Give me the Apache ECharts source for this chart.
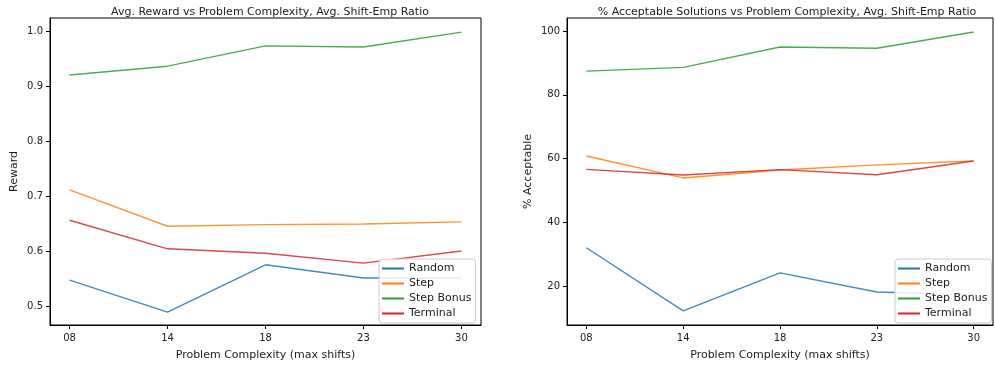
<!DOCTYPE html>
<html><head><meta charset="utf-8">
<script src="https://cdn.jsdelivr.net/npm/echarts@6/dist/echarts.min.js"></script>
<style>html,body{margin:0;padding:0;background:#fff}#c{width:995px;height:369px}</style>
</head><body><div id="c"></div>
<script>
const categories = ['08', '14', '18', '23', '30'];
const seriesNames = ['Random', 'Step', 'Step Bonus', 'Terminal'];
const rewardRandom = [0.547, 0.489, 0.575, 0.551, 0.551];
const rewardStep = [0.711, 0.645, 0.648, 0.649, 0.653];
const rewardStepBonus = [0.920, 0.936, 0.973, 0.971, 0.998];
const rewardTerminal = [0.656, 0.604, 0.596, 0.578, 0.600];
const accRandom = [32.0, 12.2, 24.1, 18.1, 17.2];
const accStep = [60.8, 53.9, 56.4, 58.0, 59.2];
const accStepBonus = [87.4, 88.6, 95.0, 94.6, 99.7];
const accTerminal = [56.6, 54.8, 56.5, 54.9, 59.2];
const rewardTicks = [0.5, 0.6, 0.7, 0.8, 0.9, 1.0];
const accTicks = [20, 40, 60, 80, 100];

const colors = ['#1f77b4', '#ff7f0e', '#2ca02c', '#d62728'];
const font = 'DejaVu Sans';
const chart = echarts.init(document.getElementById('c'));
const catIdx = categories.map((c, i) => i);

function xAxis(gi) {
  return {
    type: 'value', gridIndex: gi, min: -0.2, max: 4.2,
    splitLine: {show: false},
    axisLine: {show: true, onZero: false, lineStyle: {color: '#000', width: 1}},
    axisTick: {show: true, customValues: catIdx, length: 4, lineStyle: {color: '#000'}},
    axisLabel: {customValues: catIdx, formatter: v => categories[Math.round(v)], color: '#222', fontFamily: font, fontSize: 10, margin: 8},
    name: 'Problem Complexity (max shifts)', nameLocation: 'middle', nameGap: 25,
    nameTextStyle: {fontFamily: font, fontSize: 11, color: '#222'}
  };
}
function yAxis(gi, min, max, ticks, name, fmt, gap) {
  return {
    type: 'value', gridIndex: gi, min: min, max: max,
    splitLine: {show: false},
    axisLine: {show: true, onZero: false, lineStyle: {color: '#000', width: 1}},
    axisTick: {show: true, customValues: ticks, length: 4, lineStyle: {color: '#000'}},
    axisLabel: {customValues: ticks, formatter: fmt, color: '#222', fontFamily: font, fontSize: 10, margin: 7},
    name: name, nameLocation: 'middle', nameGap: gap, nameRotate: 90,
    nameTextStyle: {fontFamily: font, fontSize: 11, color: '#222'}
  };
}
function mk(name, vals, gi, ci) {
  return {
    name: name, type: 'line', xAxisIndex: gi, yAxisIndex: gi,
    data: vals.map((v, i) => [i, v]), showSymbol: false, symbol: 'none',
    lineStyle: {color: colors[ci], width: 1.4, opacity: 0.85},
    itemStyle: {color: colors[ci]}, animation: false
  };
}
function legend(left) {
  return {
    data: seriesNames, orient: 'vertical', left: left, top: 259,
    backgroundColor: 'rgba(255,255,255,0.85)', borderColor: '#ccc', borderWidth: 1, borderRadius: 3,
    padding: [4, 4, 4, 3], itemGap: 4, itemWidth: 22, itemHeight: 2, icon: 'rect',
    textStyle: {fontFamily: font, fontSize: 11, color: '#222', padding: [0, 0, 0, 0]}
  };
}

chart.setOption({
  animation: false,
  title: [
    {text: 'Avg. Reward vs Problem Complexity, Avg. Shift-Emp Ratio', left: 265, textAlign: 'center', top: 2,
     textStyle: {fontFamily: font, fontSize: 11, fontWeight: 'normal', color: '#222'}},
    {text: '% Acceptable Solutions vs Problem Complexity, Avg. Shift-Emp Ratio', left: 782, textAlign: 'center', top: 2,
     textStyle: {fontFamily: font, fontSize: 11, fontWeight: 'normal', color: '#222'}}
  ],
  grid: [
    {left: 50, top: 18, width: 431, height: 307, show: true, borderColor: '#000', borderWidth: 1, backgroundColor: 'transparent'},
    {left: 567, top: 18, width: 426, height: 307, show: true, borderColor: '#000', borderWidth: 1, backgroundColor: 'transparent'}
  ],
  xAxis: [xAxis(0), xAxis(1)],
  yAxis: [
    yAxis(0, 0.4655, 1.0236, rewardTicks, 'Reward', v => v.toFixed(1), 30),
    yAxis(1, 7.76, 104.08, accTicks, '% Acceptable', v => String(Math.round(v)), 33)
  ],
  legend: [legend(379), legend(895)],
  series: [
    mk('Random', rewardRandom, 0, 0), mk('Step', rewardStep, 0, 1),
    mk('Step Bonus', rewardStepBonus, 0, 2), mk('Terminal', rewardTerminal, 0, 3),
    mk('Random', accRandom, 1, 0), mk('Step', accStep, 1, 1),
    mk('Step Bonus', accStepBonus, 1, 2), mk('Terminal', accTerminal, 1, 3)
  ]
});
</script></body></html>
